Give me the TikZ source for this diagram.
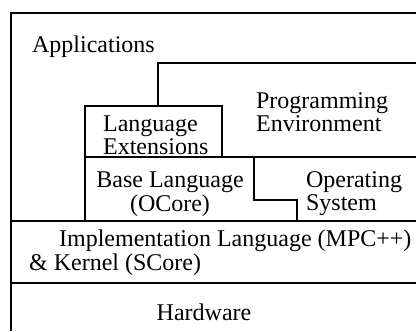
\documentclass[tikz,border=0pt]{standalone}
\usepackage{fontspec}
\setmainfont{Liberation Serif}
\begin{document}
\begin{tikzpicture}[x=5pt,y=5pt,line width=1.1pt,
    txt/.style={inner sep=0pt,font=\fontsize{12}{10}\selectfont}]
  \useasboundingbox (0,0) rectangle (41.6,33.1);
  % outer frame and the layer boundaries
  \draw (41.6,31.8) -- (1.1,31.8) -- (1.1,0);
  \draw (1.1,11) -- (41.6,11);
  \draw (1.1,4.8) -- (41.6,4.8);
  % language extensions box with the programming environment behind it
  \draw (8.5,11) -- (8.5,22.5) -- (22.2,22.5) -- (22.2,17.4);
  \draw (15.8,22.5) -- (15.8,26.8) -- (41.6,26.8);
  \draw (8.5,17.4) -- (41.6,17.4);
  % step between base language and operating system
  \draw (25.4,17.4) -- (25.4,13.1) -- (29.7,13.1) -- (29.7,11);
  % labels
  \node[txt,anchor=base west] (apps) at (3.1,27.8) {Applications};
  \node[txt,anchor=west,align=left] (progenv) at (25.5,21.9) {Programming\\Environment};
  \node[txt,anchor=west,align=left] (langext) at (10.2,19.6) {Language\\Extensions};
  \node[txt,align=center] (base) at (17,13.7) {Base Language\\(OCore)};
  \node[txt,anchor=west,align=left] (os) at (30.5,13.7) {Operating\\System};
  \node[txt,anchor=west,align=left] (impl) at (2.8,7.8) {\hspace*{15pt}Implementation Language (MPC++)\\\& Kernel (SCore)};
  \node[txt] (hw) at (20.4,1.9) {Hardware};
\end{tikzpicture}
\end{document}
